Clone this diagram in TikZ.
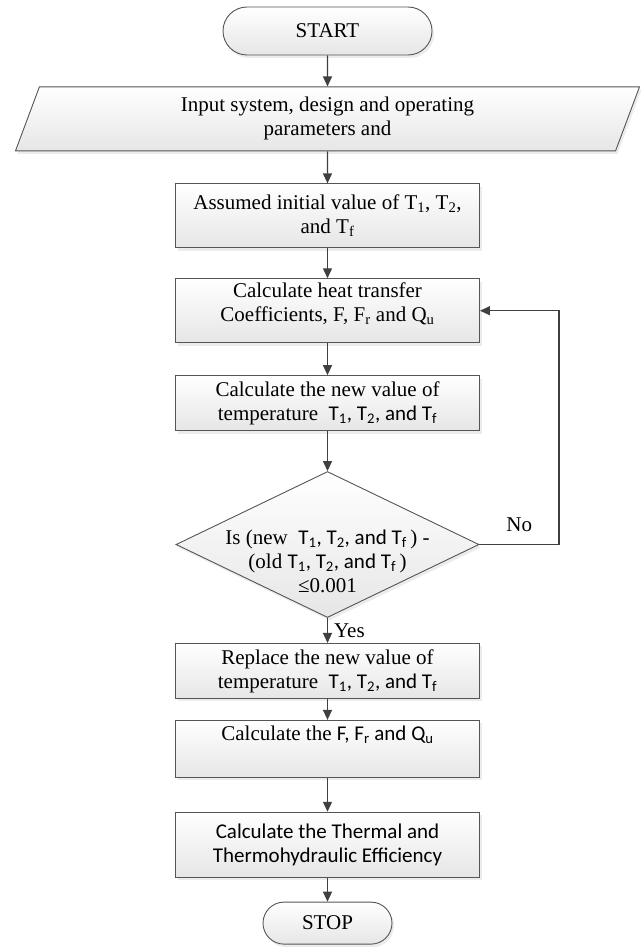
\documentclass[tikz,border=0pt]{standalone}
\usepackage{fontspec}
\setmainfont{Liberation Serif}
\newfontfamily\calibri{Carlito}
\usetikzlibrary{arrows.meta,positioning,shapes.geometric,shadows}
\definecolor{edgegray}{RGB}{85,85,85}
\definecolor{arrowgray}{RGB}{64,64,64}
\definecolor{fillgray}{RGB}{230,230,230}
\definecolor{shadowgray}{RGB}{218,218,218}
\tikzset{
  basebox/.style={draw=edgegray, line width=0.9pt, top color=white, bottom color=fillgray,
    align=center, drop shadow={shadow xshift=2pt, shadow yshift=-3pt, fill=shadowgray}},
  terminal/.style={basebox},
  procbox/.style={basebox, minimum width=304pt, inner sep=3pt},
  iobox/.style={basebox, trapezium, trapezium left angle=64, trapezium right angle=116,
    trapezium stretches body, minimum width=624pt, minimum height=64pt, inner sep=3pt},
  decision/.style={basebox, diamond, minimum width=303pt, minimum height=146pt, inner sep=0pt},
  flow/.style={-{Triangle[length=10pt,width=9pt]}, line width=1.3pt, draw=arrowgray}
}
\begin{document}
\begin{tikzpicture}[x=1pt, y=-1pt, font=\fontsize{21}{24}\selectfont]
\useasboundingbox (0,0) rectangle (643,950);

\node[terminal, minimum width=209pt, minimum height=48pt, rounded corners=24pt] (start) at (327.5,31) {START};
\node[iobox, below=31pt of start] (input)
{Input system, design and operating\\parameters and};
\node[procbox, minimum height=64pt, below=32pt of input] (assumed)
{Assumed initial value of T\textsubscript{1}, T\textsubscript{2},\\and T\textsubscript{f}};
\node[procbox, minimum height=64pt, below=30pt of assumed] (heat)
{Calculate heat transfer\\Coefficients, F, F\textsubscript{r} and Q\textsubscript{u}\\[-14pt]\strut};
\node[procbox, minimum height=55pt, below=32pt of heat] (newval)
{Calculate the new value of\\temperature\ \ {\calibri T\textsubscript{1}, T\textsubscript{2}, and T\textsubscript{f}}};
\node[decision, below=40pt of newval, label={[align=center, yshift=-17pt]center:{Is (new\ \ {\calibri T\textsubscript{1}, T\textsubscript{2}, and T\textsubscript{f}}\,) -\\(old {\calibri T\textsubscript{1}, T\textsubscript{2}, and T\textsubscript{f}}\,)\\≤0.001}}] (check) {};
\node[procbox, minimum height=55pt, below=25pt of check] (replace)
{Replace the new value of\\temperature\ \ {\calibri T\textsubscript{1}, T\textsubscript{2}, and T\textsubscript{f}}};
\node[procbox, minimum height=57pt, below=21pt of replace] (calcf)
{Calculate the {\calibri F, F\textsubscript{r}\ and Q\textsubscript{u}}\\\strut};
\node[procbox, minimum height=65pt, below=34pt of calcf, font=\fontsize{21}{24}\calibri] (thermal)
{Calculate the Thermal and\\Thermohydraulic Efficiency};
\node[terminal, minimum width=129pt, minimum height=42pt, rounded corners=21pt, below=24pt of thermal] (stop) {STOP};
\coordinate (loopx) at (559,0);

\draw[flow] (start)--(input);
\draw[flow] (input)--(assumed);
\draw[flow] (assumed)--(heat);
\draw[flow] (heat)--(newval);
\draw[flow] (newval)--(check);
\draw[flow] (check)--node[right, inner sep=6pt]{Yes}(replace);
\draw[flow] (replace)--(calcf);
\draw[flow] (calcf)--(thermal);
\draw[flow] (thermal)--(stop);
\draw[flow] (check.east)--node[above=9pt]{No}(check.east -| loopx)|-(heat.east);
\end{tikzpicture}
\end{document}
